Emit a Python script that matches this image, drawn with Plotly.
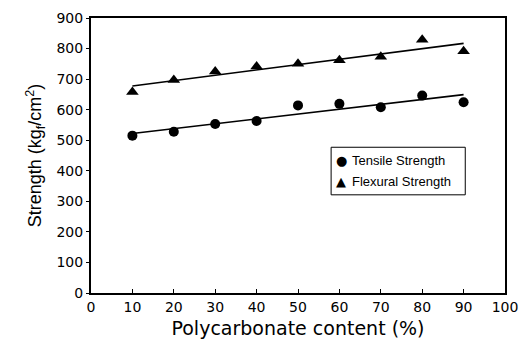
import numpy as np
import plotly.graph_objects as go

# Polycarbonate content (%) and measured strengths (kgf/cm2)
pc_content = [10, 20, 30, 40, 50, 60, 70, 80, 90]
tensile = [515, 528, 553, 563, 614, 619, 608, 646, 624]
flexural = [658, 697, 725, 741, 750, 762, 773, 829, 791]

series_names = ["Tensile Strength", "Flexural Strength"]

x_ticks = [0, 10, 20, 30, 40, 50, 60, 70, 80, 90, 100]
y_ticks = [0, 100, 200, 300, 400, 500, 600, 700, 800, 900]

FONT = "Liberation Sans, Arial, Helvetica, sans-serif"
WIDE = "DejaVu Sans, Liberation Sans, sans-serif"


def linear_fit(x, y):
    slope, intercept = np.polyfit(x, y, 1)
    xs = np.array([min(x), max(x)], dtype=float)
    return xs, slope * xs + intercept


fig = go.Figure()

styles = [("circle", 10, "\u25cf"), ("triangle-up", 11, "\u25b2")]
for name, values, (symbol, msize, _) in zip(series_names, [tensile, flexural], styles):
    fx, fy = linear_fit(pc_content, values)
    fig.add_trace(go.Scatter(
        x=fx, y=fy, mode="lines", showlegend=False,
        line=dict(color="black", width=1.6), hoverinfo="skip",
    ))
    fig.add_trace(go.Scatter(
        x=pc_content, y=values, mode="markers", name=name, showlegend=False,
        marker=dict(symbol=symbol, size=msize, color="black"),
    ))

axis_common = dict(
    showline=True, linecolor="black", linewidth=2, mirror=True,
    showgrid=False, zeroline=False,
    tickfont=dict(family=WIDE, size=14, color="black"),
    tickcolor="black",
)

fig.update_xaxes(
    range=[0, 100], tickvals=x_ticks, ticks="inside", ticklen=4,
    tickwidth=1,
    title=dict(text="Polycarbonate content (%)",
               font=dict(family=WIDE, size=19, color="black"), standoff=8),
    **axis_common,
)
fig.update_yaxes(
    range=[0, 900], tickvals=y_ticks, ticks="outside", ticklen=3,
    tickwidth=1,
    title=dict(text="Strength (kg<sub>f</sub>/cm<sup>2</sup>)",
               font=dict(family=FONT, size=18, color="black"), standoff=10),
    **axis_common,
)

# Key box with one row per series
box_x0, box_x1, box_y0, box_y1 = 0.580, 0.904, 0.357, 0.530
fig.add_shape(type="rect", xref="paper", yref="paper",
              x0=box_x0, x1=box_x1, y0=box_y0, y1=box_y1,
              line=dict(color="black", width=1), fillcolor="white", layer="above")
row_y = [0.481, 0.405]
for (name, (_, _, glyph), ry) in zip(series_names, styles, row_y):
    fig.add_annotation(xref="paper", yref="paper", x=0.604, y=ry,
                       text=glyph, showarrow=False, xanchor="center", yanchor="middle",
                       font=dict(family=WIDE, size=13, color="black"))
    fig.add_annotation(xref="paper", yref="paper", x=0.626, y=ry,
                       text=name, showarrow=False, xanchor="left", yanchor="middle",
                       font=dict(family=FONT, size=13, color="black"))

fig.update_layout(
    width=528, height=348,
    margin=dict(l=91, r=20, t=10, b=55),
    paper_bgcolor="white", plot_bgcolor="white",
    showlegend=False,
)

fig.write_html("out.html")
